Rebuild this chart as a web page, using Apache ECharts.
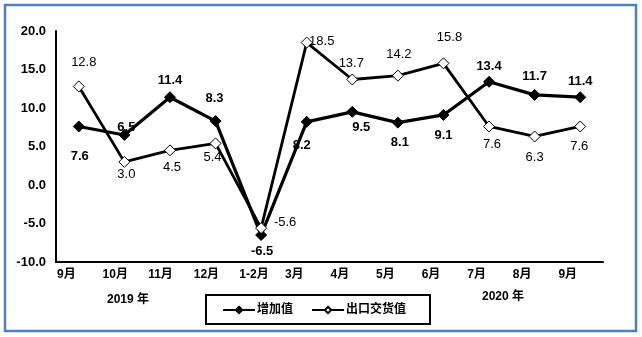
<!DOCTYPE html>
<html>
<head>
<meta charset="utf-8">
<script src="https://cdn.jsdelivr.net/npm/echarts@6/dist/echarts.min.js"></script>
<style>
  html, body { margin: 0; padding: 0; background: #fff; }
  #chart { width: 642px; height: 337px; }
</style>
</head>
<body>
<div id="chart"></div>
<script>
// Month categories (2019-09 .. 2020-09)
const months = ['9月', '10月', '11月', '12月', '1-2月', '3月', '4月', '5月', '6月', '7月', '8月', '9月'];
// Year-on-year growth of value added (%)
const valueAdded = [7.6, 6.5, 11.4, 8.3, -6.5, 8.2, 9.5, 8.1, 9.1, 13.4, 11.7, 11.4];
// Year-on-year growth of export delivery value (%)
const exportValue = [12.8, 3.0, 4.5, 5.4, -5.6, 18.5, 13.7, 14.2, 15.8, 7.6, 6.3, 7.6];
// Y-axis range and step
const yMin = -10, yMax = 20, yStep = 5;
const seriesNames = ['增加值', '出口交货值'];
const yearLabels = ['2019 年', '2020 年'];

// Label placement (pixel offsets from each point)
const valueAddedLabelOffsets = [[1, 30], [2, -8], [0, -17], [-1, -23], [1, 16], [-5, 24], [9, 16], [2, 20], [0, 20], [0, -15], [0, -18], [0, -16]];
const exportLabelOffsets = [[5, -24], [2, 13], [2, 17], [-3, 14], [24, -6], [15, -1], [-1, -16], [1, -21], [6, -26], [3, 18], [0, 21], [-1, 20]];

const FONT = '"Liberation Sans", Arial, "Noto Sans CJK SC", sans-serif';

function withLabels(values, offsets, bold) {
  return values.map((v, i) => ({
    value: v,
    label: {
      show: true,
      position: 'inside',
      offset: offsets[i],
      formatter: v.toFixed(1),
      color: '#000',
      fontFamily: FONT,
      fontSize: 13,
      fontWeight: bold ? 'bold' : 'normal'
    }
  }));
}

const chart = echarts.init(document.getElementById('chart'));
chart.setOption({
  animation: false,
  backgroundColor: '#fff',
  grid: { left: 56, right: 39, top: 31, bottom: 75, containLabel: false },
  xAxis: [
    {
      type: 'category',
      data: months,
      boundaryGap: true,
      axisLine: { show: true, onZero: false, lineStyle: { color: '#000', width: 2 } },
      axisTick: { show: false },
      axisLabel: { show: false },
      splitLine: { show: false }
    },
    {
      // label track: month names sit at the left edge of each band
      type: 'value',
      min: 0, max: months.length, interval: 1,
      position: 'bottom',
      axisLine: { show: false, onZero: false },
      axisTick: { show: false },
      splitLine: { show: false },
      axisLabel: {
        show: true,
        align: 'left',
        margin: 7,
        showMaxLabel: false,
        formatter: (v) => (months[Math.round(v)] !== undefined ? months[Math.round(v)] : ''),
        color: '#000',
        fontFamily: FONT,
        fontSize: 12,
        fontWeight: 'bold',
        padding: [0, 0, 0, 1]
      }
    }
  ],
  yAxis: {
    type: 'value',
    min: yMin, max: yMax, interval: yStep,
    axisLine: { show: true, onZero: false, lineStyle: { color: '#000', width: 2 } },
    axisTick: { show: false },
    splitLine: { show: false },
    axisLabel: {
      margin: 10,
      formatter: (v) => v.toFixed(1),
      color: '#000',
      fontFamily: FONT,
      fontSize: 13,
      fontWeight: 'bold'
    }
  },
  legend: {
    data: seriesNames,
    left: 206,
    top: 295,
    orient: 'horizontal',
    borderColor: '#000',
    borderWidth: 2,
    borderRadius: 0,
    padding: [9, 24, 8, 16],
    itemGap: 18,
    itemWidth: 32,
    itemHeight: 8,
    textStyle: { color: '#000', fontFamily: FONT, fontSize: 12, fontWeight: 'bold', padding: [0, 0, 0, -3] }
  },
  series: [
    {
      name: seriesNames[0],
      type: 'line',
      data: withLabels(valueAdded, valueAddedLabelOffsets, true),
      symbol: 'diamond',
      symbolSize: 11,
      lineStyle: { color: '#000', width: 3.2 },
      itemStyle: { color: '#000', borderColor: '#000', borderWidth: 1 },
      z: 2
    },
    {
      name: seriesNames[1],
      type: 'line',
      data: withLabels(exportValue, exportLabelOffsets, false),
      symbol: 'diamond',
      symbolSize: 11,
      lineStyle: { color: '#000', width: 2.8 },
      itemStyle: { color: '#fff', borderColor: '#000', borderWidth: 1 },
      z: 3
    }
  ],
  graphic: [
    {
      type: 'rect',
      shape: { x: 5, y: 5, width: 631, height: 326 },
      style: { fill: 'none', stroke: '#4F7FBF', lineWidth: 2.5 },
      silent: true
    },
    {
      type: 'text', left: 107, top: 294,
      style: { text: yearLabels[0], fill: '#000', font: 'bold 12px ' + FONT }
    },
    {
      type: 'text', left: 482, top: 291,
      style: { text: yearLabels[1], fill: '#000', font: 'bold 12px ' + FONT }
    }
  ]
});
</script>
</body>
</html>
